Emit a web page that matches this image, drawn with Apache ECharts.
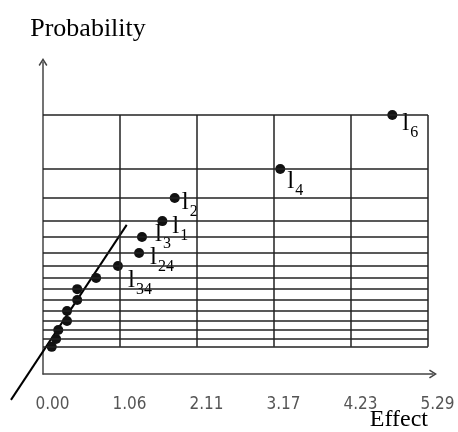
<!DOCTYPE html>
<html>
<head>
<meta charset="utf-8">
<script src="https://cdn.jsdelivr.net/npm/echarts@6/dist/echarts.min.js"></script>
<style>
  html, body { margin: 0; padding: 0; background: #fff; }
  #chart { width: 458px; height: 432px; }
</style>
</head>
<body>
<div id="chart"></div>
<script>
// effect axis ticks
const xTicks = [0, 1.058, 2.116, 3.174, 4.232, 5.29]
const xTickLabels = ['0.00', '1.06', '2.11', '3.17', '4.23', '5.29']

// probability levels (one per point, also the horizontal grid lines)
const probLevels = [83.0, 65.7, 56.4, 49.0, 43.9, 38.8, 34.6, 30.8, 27.2, 23.7, 20.2, 17.0, 14.1, 11.2, 8.7]
const effects = [4.80, 3.26, 1.81, 1.64, 1.36, 1.32, 1.03, 0.73, 0.47, 0.47, 0.33, 0.33, 0.21, 0.18, 0.12]
const pointNames = ['6', '4', '2', '1', '3', '24', '34', '', '', '', '', '', '', '', '']

// fitted line end points [effect, probability]
const fitStart = [-0.44, -8.3]
const fitEnd = [1.15, 47.8]

// label placement per named point (pixels from symbol box)
const labelPos = {
  '6': [15, 1],
  '4': [12, 5],
  '2': [12, -3],
  '1': [15, -2],
  '3': [18, -10],
  '24': [16, -3],
  '34': [15, 7],
}

const chart = echarts.init(document.getElementById('chart'))

const chevron = 'path://M5,0 L10,8 L8.6,9 L5,3 L1.4,9 L0,8 Z'
const gridColor = '#222'
const serif = 'Liberation Serif, Times New Roman, serif'

const yMin = Math.min(...probLevels)
const yMax = Math.max(...probLevels)
const xLast = xTicks[xTicks.length - 1]

const gridLines = [
  ...probLevels.map(v => [{ coord: [0, v] }, { coord: [xLast, v] }]),
  ...xTicks.slice(1).map(v => [{ coord: [v, yMin] }, { coord: [v, yMax] }]),
]

const points = effects.map((x, i) => {
  const item = { value: [x, probLevels[i]], name: pointNames[i] }
  if (pointNames[i]) {
    item.label = {
      show: true,
      position: labelPos[pointNames[i]],
      align: 'left',
      verticalAlign: 'top',
      formatter: '{l|l}{s|' + pointNames[i] + '}',
      rich: {
        l: {
          fontFamily: serif,
          fontSize: 25,
          lineHeight: 24,
          color: '#000',
          verticalAlign: 'top',
        },
        s: {
          fontFamily: serif,
          fontSize: 16,
          lineHeight: 15,
          color: '#000',
          verticalAlign: 'top',
          padding: [14, 0, 0, 1],
        },
      },
    }
  }
  return item
})

const option = {
  animation: false,
  grid: {
    left: 43,
    right: 25,
    top: 62,
    bottom: 58,
    containLabel: false,
    outerBoundsMode: 'none',
  },
  xAxis: {
    type: 'value',
    min: 0,
    max: 5.359,
    interval: 1.058,
    name: 'Effect',
    nameLocation: 'end',
    nameGap: 0,
    nameMoveOverlap: false,
    nameTextStyle: {
      fontFamily: serif,
      fontSize: 24,
      lineHeight: 24,
      color: '#000',
      align: 'right',
      verticalAlign: 'top',
      padding: [34, 5, 0, 0],
    },
    axisLine: {
      show: true,
      symbol: ['none', chevron],
      symbolSize: [9, 8],
      lineStyle: { color: '#444', width: 1.5 },
    },
    axisTick: { show: false },
    splitLine: { show: false },
    axisLabel: {
      margin: 22,
      color: '#555',
      fontSize: 17,
      fontFamily: 'DejaVu Sans Condensed, Liberation Sans Narrow, DejaVu Sans, sans-serif',
      padding: [0, 0, 0, 19],
      formatter: (v) => {
        const i = xTicks.findIndex(t => Math.abs(t - v) < 0.01)
        return i >= 0 ? xTickLabels[i] : ''
      },
    },
  },
  yAxis: {
    type: 'value',
    min: 0,
    max: 100,
    name: 'Probability',
    nameLocation: 'end',
    nameGap: 20,
    nameMoveOverlap: false,
    nameTextStyle: {
      fontFamily: serif,
      fontSize: 26,
      lineHeight: 25,
      color: '#000',
      align: 'center',
      padding: [0, 0, 0, 90],
    },
    axisLine: {
      show: true,
      symbol: ['none', chevron],
      symbolSize: [9, 8],
      lineStyle: { color: '#444', width: 1.5 },
    },
    axisTick: { show: false },
    axisLabel: { show: false },
    splitLine: { show: false },
  },
  series: [
    {
      type: 'line',
      data: [],
      silent: true,
      markLine: {
        silent: true,
        symbol: 'none',
        label: { show: false },
        lineStyle: { color: gridColor, width: 1.5, type: 'solid' },
        data: gridLines,
      },
    },
    {
      type: 'lines',
      coordinateSystem: 'cartesian2d',
      clip: false,
      silent: true,
      data: [{ coords: [fitStart, fitEnd] }],
      lineStyle: { color: '#000', width: 2, opacity: 1 },
    },
    {
      type: 'scatter',
      data: points,
      symbolSize: 10,
      itemStyle: { color: '#111', opacity: 1 },
      clip: false,
    },
  ],
}

chart.setOption(option)
</script>
</body>
</html>
